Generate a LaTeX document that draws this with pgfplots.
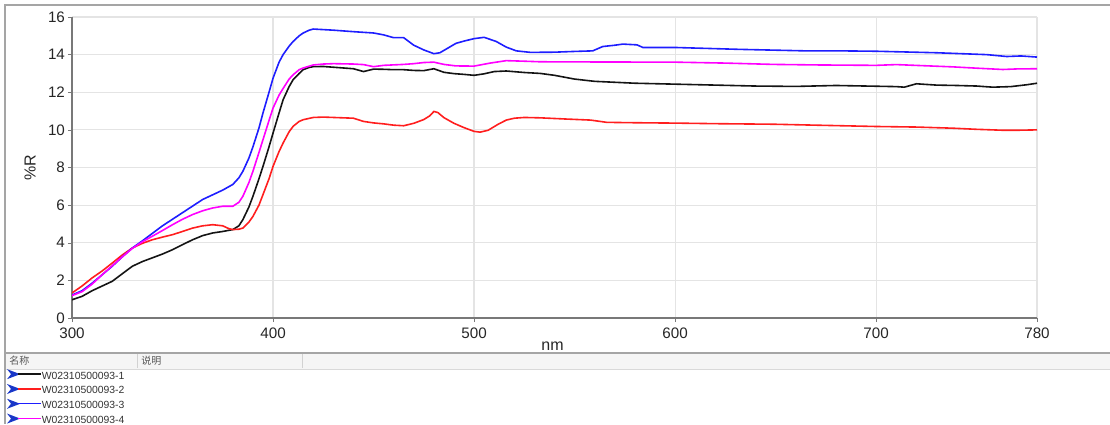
\documentclass[border=0pt]{standalone}
\usepackage{pgfplots}
\pgfplotsset{compat=1.18}
\usepackage{fontspec}
\setmainfont{Liberation Sans}
\newfontfamily\cjk{Noto Sans CJK SC}

\definecolor{cblack}{RGB}{20,20,20}
\definecolor{cred}{RGB}{255,30,30}
\definecolor{cblue}{RGB}{30,30,255}
\definecolor{cmag}{RGB}{255,0,255}
\definecolor{framegray}{RGB}{165,165,165}
\definecolor{gridgray}{RGB}{228,228,228}
\definecolor{axisgray}{RGB}{120,120,120}
\definecolor{arrowblue}{RGB}{25,55,200}

\begin{document}
\begin{tikzpicture}
\useasboundingbox (0,0) rectangle (555pt,212pt);
% panel frame
\draw[framegray, line width=1pt] (2.5pt,0) -- (2.5pt,209.6pt) -- (555pt,209.6pt);
\fill[gray!8] (3pt,27.5pt) rectangle (555pt,35.5pt);
\draw[framegray, line width=0.8pt] (2.5pt,35.5pt) -- (555pt,35.5pt);
\draw[gray!30, line width=0.4pt] (3pt,27.5pt) -- (555pt,27.5pt);
\draw[gray!35, line width=0.4pt] (68.5pt,28pt) -- (68.5pt,35pt);
\draw[gray!35, line width=0.4pt] (151pt,28pt) -- (151pt,35pt);
\node[anchor=west, inner sep=0pt, text=gray!70!black] at (4.5pt,31.5pt) {\cjk\fontsize{5}{6}\selectfont 名称};
\node[anchor=west, inner sep=0pt, text=gray!70!black] at (70.5pt,31.5pt) {\cjk\fontsize{5}{6}\selectfont 说明};

\begin{axis}[
    at={(36pt,53pt)}, anchor=south west,
    scale only axis,
    width=482.5pt, height=150.5pt,
    xmin=300, xmax=780, ymin=0, ymax=16,
    xtick={300,400,500,600,700,780},
    ytick={0,2,4,6,8,10,12,14,16},
    axis x line=bottom, axis y line=left,
    axis line style={-, axisgray, line width=0.6pt},
    tick align=outside, major tick length=2pt,
    tick style={axisgray},
    grid=major,
    major grid style={gridgray, line width=0.6pt},
    /pgf/number format/assume math mode=true,
    ticklabel style={font=\fontsize{7.6}{9}\selectfont, text=black!85},
    yticklabel style={xshift=2pt},
    xticklabel style={yshift=0.5pt},
    xlabel={nm}, ylabel={\%R},
    label style={font=\fontsize{8}{10}\selectfont, text=black!85},
    xlabel style={at={(axis description cs:0.498,-0.093)}, anchor=center},
    ylabel style={at={(axis description cs:-0.0435,0.498)}, anchor=center, rotate=0},
    every axis plot/.append style={line width=0.8pt},
    legend style={at={(axis description cs:-0.066,-0.172)}, anchor=north west,
        draw=none, fill=none, inner sep=0pt, row sep=0pt,
        font=\fontsize{5.2}{6}\selectfont,
        nodes={inner sep=0.3pt, text height=4.0pt, text depth=2.6pt, text=black!80}},
    legend cell align=left,
    legend image code/.code={
        \fill[arrowblue] (0pt,3.4pt) -- (4.2pt,1.8pt) -- (0pt,0.2pt) -- (1.3pt,1.8pt) -- cycle;
        \draw[#1, line width=0.7pt] (4pt,1.8pt) -- (15.5pt,1.8pt);
    },
]
\addplot[cblack] coordinates {
(300,0.97)(305,1.15)(310,1.45)(315,1.7)(320,1.95)(325,2.35)(330,2.75)(335,3.0)(340,3.2)(345,3.4)
(350,3.63)(355,3.9)(360,4.16)(365,4.38)(370,4.52)(375,4.6)(380,4.7)(383,4.9)(385,5.23)(388,5.9)
(390,6.47)(393,7.4)(395,8.06)(398,9.1)(400,9.83)(403,10.9)(405,11.6)(408,12.3)(410,12.67)(413,13.0)
(415,13.2)(418,13.32)(420,13.36)(425,13.37)(430,13.33)(435,13.29)(440,13.25)(445,13.1)(450,13.23)
(455,13.22)(460,13.2)(465,13.2)(470,13.16)(475,13.15)(480,13.25)(485,13.06)(490,12.99)(495,12.95)
(500,12.9)(505,12.98)(510,13.1)(516,13.13)(525,13.05)(533,13.0)(540,12.9)(550,12.7)(560,12.58)
(570,12.53)(580,12.48)(600,12.43)(620,12.38)(640,12.33)(660,12.31)(680,12.36)(700,12.32)(710,12.3)
(714,12.27)(720,12.45)(730,12.38)(740,12.36)(750,12.33)(758,12.27)(767,12.3)(775,12.4)(780,12.48)
};
\addplot[cred] coordinates {
(300,1.33)(305,1.7)(310,2.13)(315,2.5)(320,2.92)(325,3.35)(330,3.72)(335,3.97)(340,4.16)(345,4.3)
(350,4.43)(355,4.6)(360,4.78)(365,4.9)(370,4.96)(375,4.9)(378,4.75)(380,4.7)(383,4.72)(385,4.78)
(388,5.1)(390,5.4)(393,6.0)(395,6.56)(398,7.4)(400,8.06)(403,8.85)(405,9.3)(408,9.9)(410,10.19)
(413,10.45)(415,10.54)(420,10.66)(425,10.68)(430,10.66)(440,10.62)(445,10.45)(450,10.37)(455,10.32)
(460,10.25)(465,10.22)(470,10.35)(475,10.55)(478,10.75)(480,10.98)(482,10.92)(485,10.65)(490,10.35)
(495,10.12)(500,9.92)(503,9.88)(507,9.98)(512,10.3)(516,10.52)(520,10.62)(525,10.66)(533,10.64)
(545,10.58)(558,10.52)(566,10.4)(580,10.38)(600,10.36)(620,10.33)(649,10.3)(670,10.25)(700,10.18)
(720,10.15)(738,10.09)(750,10.03)(763,9.98)(770,9.98)(780,10.0)
};
\addplot[cblue] coordinates {
(300,1.22)(305,1.45)(310,1.85)(315,2.3)(320,2.75)(325,3.25)(330,3.72)(335,4.1)(340,4.5)(345,4.9)
(350,5.25)(355,5.6)(360,5.95)(365,6.3)(370,6.55)(375,6.8)(380,7.1)(383,7.45)(385,7.8)(388,8.5)
(390,9.1)(393,10.1)(395,10.9)(398,12.0)(400,12.75)(403,13.6)(405,14.0)(408,14.45)(410,14.7)
(413,15.0)(415,15.15)(418,15.3)(420,15.36)(425,15.33)(430,15.3)(440,15.22)(450,15.15)(455,15.05)
(460,14.9)(465,14.9)(470,14.5)(475,14.25)(480,14.05)(483,14.1)(487,14.35)(491,14.6)(495,14.72)
(500,14.85)(505,14.92)(511,14.7)(516,14.4)(521,14.2)(528,14.12)(540,14.13)(550,14.17)(559,14.2)
(564,14.43)(570,14.5)(574,14.56)(581,14.52)(584,14.38)(600,14.38)(632,14.28)(665,14.2)(682,14.2)
(700,14.18)(730,14.1)(755,14.0)(765,13.9)(772,13.93)(780,13.87)
};
\addplot[cmag] coordinates {
(300,1.19)(305,1.4)(310,1.8)(315,2.3)(320,2.78)(325,3.25)(330,3.7)(335,4.05)(340,4.35)(345,4.65)
(350,4.96)(355,5.25)(360,5.5)(365,5.7)(370,5.85)(375,5.94)(380,5.94)(383,6.15)(385,6.47)(388,7.2)
(390,7.8)(393,8.8)(395,9.48)(398,10.5)(400,11.16)(403,11.85)(405,12.2)(408,12.7)(410,12.93)
(413,13.2)(415,13.29)(420,13.45)(425,13.5)(430,13.52)(440,13.5)(445,13.47)(450,13.36)(455,13.43)
(465,13.48)(470,13.52)(475,13.58)(480,13.6)(485,13.48)(491,13.4)(500,13.39)(508,13.55)(516,13.68)
(525,13.65)(533,13.62)(560,13.61)(600,13.6)(625,13.55)(649,13.48)(672,13.45)(700,13.43)(710,13.47)
(738,13.35)(750,13.28)(763,13.21)(770,13.24)(780,13.25)
};
\legend{W02310500093-1, W02310500093-2, W02310500093-3, W02310500093-4}
\end{axis}
\end{tikzpicture}
\end{document}
